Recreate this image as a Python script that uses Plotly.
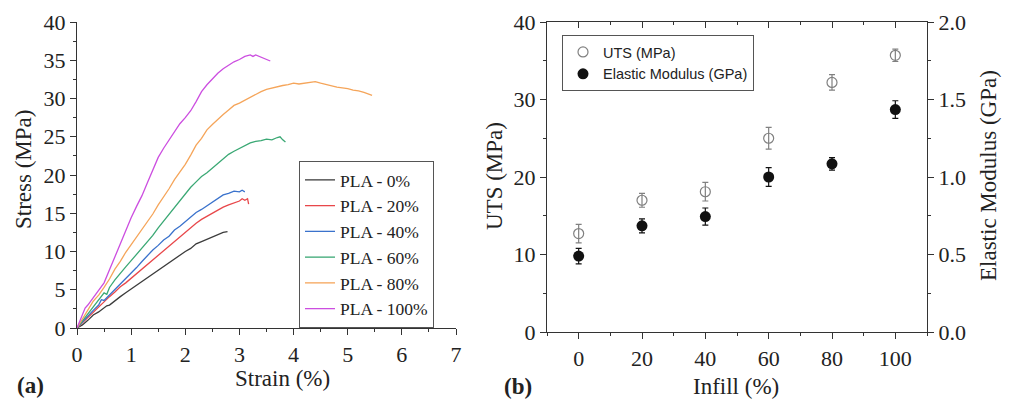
import plotly.graph_objects as go

# ---------------- (a) stress-strain curves ----------------
strain_0 = [0.00, 0.10, 0.20, 0.30, 0.40, 0.50, 0.55, 0.60, 0.70, 0.80, 0.90, 1.00, 1.10, 1.20, 1.30,
            1.40, 1.50, 1.60, 1.70, 1.80, 1.90, 2.00, 2.10, 2.20, 2.30, 2.40, 2.50, 2.60, 2.70, 2.78]
stress_0 = [0.0, 0.4, 1.0, 1.7, 2.1, 2.6, 2.9, 3.0, 3.6, 4.1, 4.6, 5.1, 5.6, 6.0, 6.6,
            7.0, 7.6, 8.1, 8.6, 9.1, 9.5, 10.0, 10.4, 11.0, 11.3, 11.6, 11.9, 12.3, 12.5, 12.6]

strain_20 = [0.00, 0.10, 0.20, 0.30, 0.40, 0.50, 0.60, 0.70, 0.80, 0.90, 1.00, 1.10, 1.20, 1.30, 1.40,
             1.50, 1.60, 1.70, 1.80, 1.90, 2.00, 2.10, 2.20, 2.30, 2.40, 2.50, 2.60, 2.70, 2.80, 2.90,
             3.00, 3.05, 3.10, 3.15, 3.17]
stress_20 = [0.0, 0.7, 1.4, 2.1, 2.8, 3.4, 4.1, 4.7, 5.4, 5.9, 6.5, 7.1, 7.8, 8.3, 9.0,
             9.6, 10.2, 10.8, 11.4, 11.9, 12.5, 13.1, 13.7, 14.2, 14.6, 15.1, 15.5, 15.8, 16.1, 16.4,
             16.6, 16.9, 16.7, 16.9, 16.2]

strain_40 = [0.00, 0.10, 0.20, 0.30, 0.40, 0.45, 0.50, 0.60, 0.70, 0.80, 0.90, 1.00, 1.10, 1.20, 1.30,
             1.40, 1.50, 1.60, 1.70, 1.80, 1.90, 2.00, 2.10, 2.20, 2.30, 2.40, 2.50, 2.60, 2.70, 2.80,
             2.90, 3.00, 3.05, 3.10]
stress_40 = [0.0, 0.8, 1.6, 2.3, 3.0, 3.7, 3.6, 4.3, 5.0, 5.7, 6.4, 7.1, 7.9, 8.7, 9.5,
             10.2, 10.8, 11.5, 12.0, 12.8, 13.3, 13.9, 14.4, 15.1, 15.5, 16.0, 16.4, 16.9, 17.4, 17.6,
             17.9, 17.8, 18.0, 17.8]

strain_60 = [0.00, 0.10, 0.20, 0.30, 0.40, 0.50, 0.55, 0.60, 0.70, 0.80, 0.90, 1.00, 1.10, 1.20, 1.30,
             1.40, 1.50, 1.60, 1.70, 1.80, 1.90, 2.00, 2.10, 2.20, 2.30, 2.40, 2.50, 2.60, 2.70, 2.80,
             2.90, 3.00, 3.10, 3.20, 3.30, 3.40, 3.50, 3.60, 3.70, 3.75, 3.80, 3.85]
stress_60 = [0.0, 0.9, 1.9, 2.8, 3.7, 4.6, 4.4, 5.3, 6.3, 7.2, 8.0, 8.8, 9.6, 10.5, 11.2,
             12.1, 13.1, 14.0, 14.9, 15.8, 16.6, 17.6, 18.4, 19.1, 19.8, 20.3, 20.9, 21.6, 22.2, 22.7,
             23.1, 23.5, 23.8, 24.2, 24.4, 24.5, 24.7, 24.6, 24.9, 25.0, 24.6, 24.3]

strain_80 = [0.00, 0.10, 0.20, 0.30, 0.35, 0.40, 0.50, 0.60, 0.70, 0.80, 0.90, 1.00, 1.10, 1.20, 1.30,
             1.40, 1.50, 1.60, 1.70, 1.80, 1.90, 2.00, 2.10, 2.20, 2.30, 2.40, 2.50, 2.60, 2.70, 2.80,
             2.90, 3.00, 3.10, 3.20, 3.30, 3.40, 3.50, 3.60, 3.70, 3.80, 3.90, 4.00, 4.10, 4.20, 4.30,
             4.40, 4.50, 4.60, 4.70, 4.80, 4.90, 5.00, 5.10, 5.20, 5.30, 5.40, 5.45]
stress_80 = [0.0, 1.2, 2.3, 3.5, 3.9, 4.3, 5.3, 6.4, 7.7, 8.7, 9.9, 10.9, 11.8, 12.9, 13.9,
             14.9, 16.1, 17.1, 18.2, 19.4, 20.4, 21.4, 22.6, 23.9, 24.8, 25.9, 26.6, 27.3, 27.9, 28.5,
             29.1, 29.4, 29.8, 30.1, 30.6, 30.9, 31.2, 31.4, 31.6, 31.7, 31.8, 32.0, 31.9, 32.0, 32.1,
             32.2, 32.0, 31.8, 31.7, 31.5, 31.4, 31.3, 31.1, 31.0, 30.8, 30.6, 30.4]

strain_100 = [0.00, 0.05, 0.10, 0.15, 0.20, 0.30, 0.40, 0.50, 0.60, 0.70, 0.80, 0.90, 1.00, 1.10, 1.20,
              1.30, 1.40, 1.50, 1.60, 1.70, 1.80, 1.90, 2.00, 2.10, 2.20, 2.30, 2.40, 2.50, 2.60, 2.70,
              2.80, 2.90, 3.00, 3.10, 3.20, 3.25, 3.30, 3.40, 3.50, 3.57]
stress_100 = [0.0, 0.8, 1.6, 2.6, 3.0, 4.0, 4.9, 5.9, 7.6, 9.3, 11.1, 12.7, 14.4, 15.9, 17.3,
              19.0, 20.7, 22.3, 23.5, 24.6, 25.6, 26.7, 27.5, 28.4, 29.6, 30.9, 31.8, 32.6, 33.3, 33.9,
              34.4, 34.8, 35.1, 35.5, 35.7, 35.5, 35.7, 35.4, 35.2, 34.9]

curve_names = ["PLA - 0%", "PLA - 20%", "PLA - 40%", "PLA - 60%", "PLA - 80%", "PLA - 100%"]
curve_colors = ["#3c3c3c", "#e8474a", "#3a72cc", "#3aa874", "#f5a55a", "#cc4ee0"]

# ---------------- (b) UTS & modulus vs infill ----------------
infill = [0, 20, 40, 60, 80, 100]
uts = [12.7, 17.0, 18.1, 25.0, 32.2, 35.7]
uts_err = [1.2, 0.9, 1.2, 1.4, 1.0, 0.8]
modulus = [0.49, 0.685, 0.745, 1.0, 1.085, 1.435]
modulus_err = [0.05, 0.045, 0.055, 0.06, 0.04, 0.057]

# page has an 8 px body margin: figure is drawn from (8, 8) inside a 1026 x 406 window
OFF = 8
W, H = 1026 - OFF, 406 - OFF
SERIF = "Liberation Serif, Times New Roman, serif"
SANS = "Liberation Sans, Arial, sans-serif"
AX = "#333333"
TXT = "#222222"

def px(x):
    return (x - OFF) / W

def py(y):
    return 1 - (y - OFF) / H

fig = go.Figure()

curves = [(strain_0, stress_0), (strain_20, stress_20), (strain_40, stress_40),
          (strain_60, stress_60), (strain_80, stress_80), (strain_100, stress_100)]
for (sx, sy), name, col in zip(curves, curve_names, curve_colors):
    fig.add_trace(go.Scatter(x=sx, y=sy, mode="lines", name=name,
                             line=dict(color=col, width=1.3),
                             xaxis="x", yaxis="y", legend="legend"))

fig.add_trace(go.Scatter(x=infill, y=uts, mode="markers", name="UTS (MPa)",
                         marker=dict(symbol="circle-open", size=10, color="#808080",
                                     line=dict(width=1.2, color="#808080")),
                         error_y=dict(type="data", array=uts_err, visible=True,
                                      color="#808080", thickness=1.2, width=3),
                         xaxis="x2", yaxis="y2", legend="legend2"))
fig.add_trace(go.Scatter(x=infill, y=modulus, mode="markers", name="Elastic Modulus (GPa)",
                         marker=dict(symbol="circle", size=11, color="#111111"),
                         error_y=dict(type="data", array=modulus_err, visible=True,
                                      color="#111111", thickness=1.2, width=3),
                         xaxis="x2", yaxis="y3", legend="legend2"))
# helper (empty) trace so that the top frame axis of panel (b) is drawn
fig.add_trace(go.Scatter(x=[None], y=[None], xaxis="x3", yaxis="y2", showlegend=False,
                         hoverinfo="skip"))

tickfont = dict(family=SERIF, size=22, color=TXT)
common = dict(showgrid=False, zeroline=False, showline=True, linecolor=AX, linewidth=1.3,
              ticks="outside", ticklen=6, tickwidth=1.2, tickcolor=AX, tickfont=tickfont,
              automargin=False)

fig.update_layout(
    width=W, height=H,
    margin=dict(l=0, r=0, t=0, b=0, pad=0),
    paper_bgcolor="white", plot_bgcolor="white",
    xaxis=dict(domain=[px(77), px(456)], range=[0, 7], dtick=1, tick0=0, anchor="y",
               minor=dict(dtick=0.5, ticks="outside", ticklen=3, tickcolor=AX), **common),
    yaxis=dict(domain=[py(328), py(22)], range=[0, 40], dtick=5, tick0=0, anchor="x",
               minor=dict(dtick=2.5, ticks="outside", ticklen=3, tickcolor=AX), **common),
    xaxis2=dict(domain=[px(547), px(927)], range=[-10, 110], dtick=20, tick0=0, anchor="y2",
                minor=dict(dtick=10, ticks="outside", ticklen=3, tickcolor=AX), **common),
    xaxis3=dict(overlaying="x2", side="top", range=[-10, 110], dtick=20, tick0=0, anchor="y2",
                showticklabels=False, showgrid=False, zeroline=False, showline=True,
                linecolor=AX, linewidth=1.3, ticks="inside", ticklen=6, tickcolor=AX,
                automargin=False,
                minor=dict(dtick=10, ticks="inside", ticklen=3, tickcolor=AX)),
    yaxis2=dict(domain=[py(332), py(22)], range=[0, 40], dtick=10, tick0=0, anchor="x2",
                minor=dict(dtick=5, ticks="outside", ticklen=3, tickcolor=AX), **common),
    yaxis3=dict(overlaying="y2", side="right", range=[0, 2], dtick=0.5, tick0=0, anchor="x2",
                tickformat=".1f",
                minor=dict(dtick=0.25, ticks="outside", ticklen=3, tickcolor=AX), **common),
    legend=dict(x=px(299), y=py(161), xanchor="left", yanchor="top",
                bgcolor="white", bordercolor="#555555", borderwidth=1,
                font=dict(family=SERIF, size=17.5, color=TXT), tracegroupgap=0),
    legend2=dict(x=px(562), y=py(35), xanchor="left", yanchor="top",
                 bgcolor="white", bordercolor="#555555", borderwidth=1,
                 font=dict(family=SANS, size=14.5, color=TXT), tracegroupgap=0),
    showlegend=True,
)

def ann(text, x, y, size=23, angle=0, bold=False):
    fig.add_annotation(text=("<b>%s</b>" % text) if bold else text,
                       xref="paper", yref="paper", x=px(x), y=py(y),
                       xanchor="center", yanchor="middle", showarrow=False, textangle=angle,
                       font=dict(family=SERIF, size=size, color=TXT))

ann("Stress (MPa)", 23, 170, angle=-90)
ann("Strain (%)", 282, 378)
ann("UTS (MPa)", 494, 176, angle=-90)
ann("Elastic Modulus (GPa)", 988, 176, angle=-90)
ann("Infill (%)", 736, 386)
ann("(a)", 30, 385, size=23, bold=True)
ann("(b)", 518, 386, size=23, bold=True)

fig.write_html("out.html")
